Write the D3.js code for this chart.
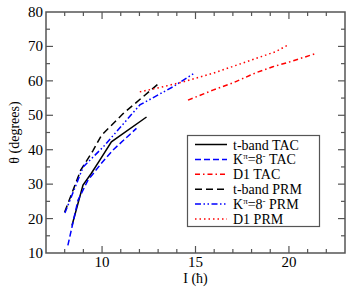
<!DOCTYPE html>
<html>
<head>
<meta charset="utf-8">
<script src="https://cdn.jsdelivr.net/npm/d3@7"></script>
<style>
  body { margin: 0; background: #fff; }
  svg text { font-family: 'Liberation Serif', 'DejaVu Serif', serif; }
</style>
</head>
<body>
<div id="chart"></div>
<script>
// data
const tbandTacI = [8.39, 8.98, 9.42, 9.88, 10.5, 12.38];
const tbandTacT = [18.0, 29.7, 33.1, 37.0, 42.3, 49.5];
const kTacI = [8.17, 8.71, 9.24, 10.0, 10.58, 11.84];
const kTacT = [12.2, 25.3, 31.1, 36.3, 39.9, 46.2];
const d1TacI = [14.6, 15.93, 17.0, 18.25, 19.14, 20.03, 21.36];
const d1TacT = [54.4, 57.3, 59.4, 62.4, 64.1, 65.5, 67.8];
const tbandPrmI = [8.0, 8.85, 9.5, 9.97, 11.13, 13.0];
const tbandPrmT = [21.9, 34.0, 39.6, 44.2, 50.5, 59.1];
const kPrmI = [8.01, 8.99, 10.06, 12.02, 13.8, 14.95];
const kPrmT = [21.6, 35.0, 40.8, 53.0, 58.3, 62.3];
const d1PrmI = [12.02, 13.27, 14.33, 15.93, 17.7, 19.3, 19.94];
const d1PrmT = [56.8, 58.3, 59.7, 62.2, 65.5, 68.5, 70.4];

const xTicks = [10, 15, 20];
const yTicks = [10, 20, 30, 40, 50, 60, 70, 80];

const series = [
  { name: 't-band TAC', I: tbandTacI, t: tbandTacT, color: '#000', dash: null },
  { name: 'K^π=8^- TAC', I: kTacI, t: kTacT, color: '#0000ff', dash: '6,3' },
  { name: 'D1 TAC', I: d1TacI, t: d1TacT, color: '#ff0000', dash: '5,3,1.5,3' },
  { name: 't-band PRM', I: tbandPrmI, t: tbandPrmT, color: '#000', dash: '7,4' },
  { name: 'K^π=8^- PRM', I: kPrmI, t: kPrmT, color: '#0000ff', dash: '6,2.5,1.5,2.5,1.5,2.5' },
  { name: 'D1 PRM', I: d1PrmI, t: d1PrmT, color: '#ff0000', dash: '1.5,3' }
];

const margin = { left: 46, right: 9, top: 12, bottom: 40 };
const width = 354, height = 293;
const w = width - margin.left - margin.right;
const h = height - margin.top - margin.bottom;

const x = d3.scaleLinear().domain([7, 23]).range([0, w]);
const y = d3.scaleLinear().domain([10, 80]).range([h, 0]);

const svg = d3.select('#chart').append('svg')
  .attr('width', width)
  .attr('height', height);

const g = svg.append('g')
  .attr('transform', 'translate(' + margin.left + ',' + margin.top + ')');

const frameColor = '#555';

// ticks (inward, on all sides)
const xMinor = d3.range(8, 23, 1).filter(d => d % 5 !== 0);
const yMinor = d3.range(15, 80, 10);

function drawTicks(vals, len, isX) {
  vals.forEach(function (v) {
    if (isX) {
      g.append('line').attr('x1', x(v)).attr('x2', x(v)).attr('y1', h).attr('y2', h - len);
      g.append('line').attr('x1', x(v)).attr('x2', x(v)).attr('y1', 0).attr('y2', len);
    } else {
      g.append('line').attr('y1', y(v)).attr('y2', y(v)).attr('x1', 0).attr('x2', len);
      g.append('line').attr('y1', y(v)).attr('y2', y(v)).attr('x1', w).attr('x2', w - len);
    }
  });
}
drawTicks(xTicks, 7, true);
drawTicks(xMinor, 4, true);
drawTicks(yTicks.slice(1, -1), 7, false);
drawTicks(yMinor, 4, false);
g.selectAll('line').attr('stroke', frameColor).attr('stroke-width', 1.2);

g.append('rect')
  .attr('width', w).attr('height', h)
  .attr('fill', 'none')
  .attr('stroke', frameColor)
  .attr('stroke-width', 1.5);

// tick labels
g.selectAll('.xl').data(xTicks).enter().append('text')
  .attr('x', d => x(d)).attr('y', h + 14)
  .attr('text-anchor', 'middle')
  .style('font-size', '15px')
  .text(d => d);

g.selectAll('.yl').data(yTicks).enter().append('text')
  .attr('x', -3).attr('y', d => y(d) + 5)
  .attr('text-anchor', 'end')
  .style('font-size', '15px')
  .text(d => d);

// axis titles
svg.append('text')
  .attr('x', margin.left + x(15)).attr('y', 283)
  .attr('text-anchor', 'middle')
  .style('font-size', '14px')
  .text('I (ħ)');

svg.append('text')
  .attr('transform', 'translate(19,' + (margin.top + y(45)) + ') rotate(-90)')
  .attr('text-anchor', 'middle')
  .style('font-size', '14px')
  .text('θ (degrees)');

// curves
const line = d3.line()
  .x(d => x(d[0]))
  .y(d => y(d[1]));

series.forEach(function (s) {
  g.append('path')
    .datum(s.I.map((v, i) => [v, s.t[i]]))
    .attr('d', line)
    .attr('fill', 'none')
    .attr('stroke', s.color)
    .attr('stroke-width', 1.5)
    .attr('stroke-dasharray', s.dash);
});

// legend
const lg = svg.append('g');
lg.append('rect')
  .attr('x', 187.5).attr('y', 135.5)
  .attr('width', 132).attr('height', 91)
  .attr('fill', '#fff')
  .attr('stroke', frameColor)
  .attr('stroke-width', 1.2);

series.forEach(function (s, i) {
  const yy = 144.5 + i * 14.9;
  lg.append('line')
    .attr('x1', 195).attr('x2', 227)
    .attr('y1', yy).attr('y2', yy)
    .attr('stroke', s.color)
    .attr('stroke-width', 1.5)
    .attr('stroke-dasharray', s.dash);
  const t = lg.append('text')
    .attr('x', 233).attr('y', yy + 5)
    .style('font-size', '14px');
  if (s.name.indexOf('K^') === 0) {
    const rest = s.name.split(' ')[1];
    t.append('tspan').text('K');
    t.append('tspan').style('font-size', '9px').attr('dy', -5).text('π');
    t.append('tspan').attr('dy', 5).text('=8');
    t.append('tspan').style('font-size', '9px').attr('dy', -5).text('-');
    t.append('tspan').attr('dy', 5).text(' ' + rest);
  } else {
    t.text(s.name);
  }
});
</script>
</body>
</html>
